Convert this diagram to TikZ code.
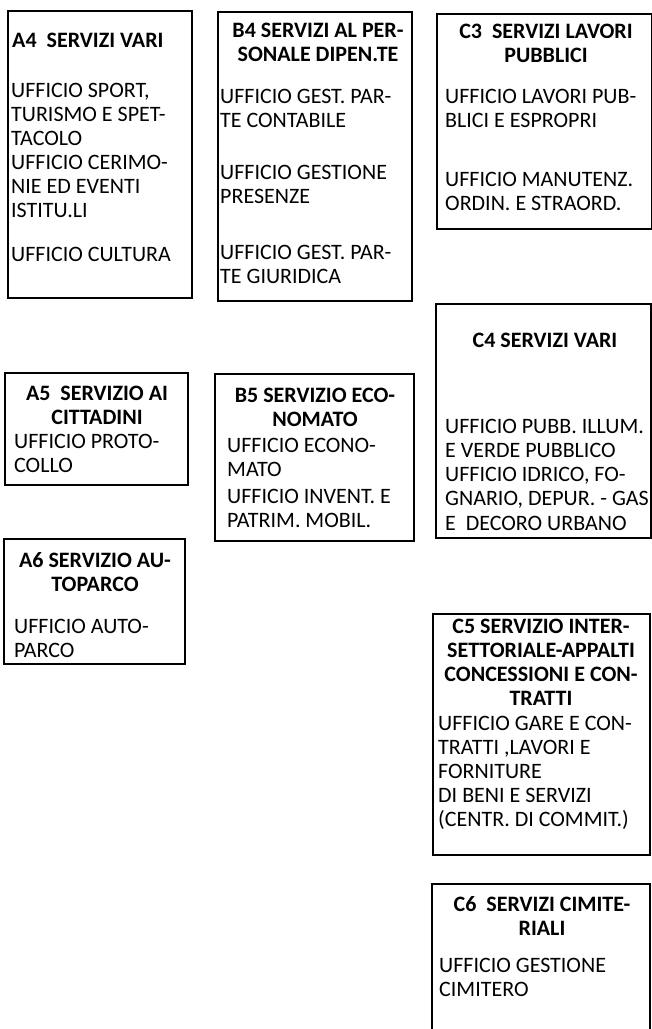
\documentclass[tikz,border=0pt]{standalone}
\usepackage{fontspec}
\setmainfont{Carlito}
\usepackage{tikz}

\begin{document}
\begin{tikzpicture}[x=1pt, y=-1pt, font=\fontsize{22}{24}\selectfont,
  box/.style={rectangle, draw=black, line width=2pt, anchor=north west, inner sep=0pt},
  head/.style={font=\fontsize{22}{24}\selectfont\bfseries, align=center, anchor=north, inner sep=0pt},
  body/.style={align=left, anchor=north west, inner sep=0pt}]
\useasboundingbox (0,0) rectangle (652,1029);

% column A
\node (a4) [box, minimum width=184pt, minimum height=287pt] at (7,10) {};
\node (a4head) [head, anchor=north west] at (12,33) {A4~~SERVIZI VARI};
\node (a4body) [body] at (11,83) {UFFICIO SPORT,\\TURISMO E SPET-\\TACOLO\\UFFICIO CERIMO-\\NIE ED EVENTI\\ISTITU.LI\\[20pt]UFFICIO CULTURA};

\node (a5) [box, minimum width=183pt, minimum height=112pt] at (4,372) {};
\node (a5head) [head] at (97,386) {A5~~SERVIZIO AI\\CITTADINI};
\node (a5body) [body] at (14,434) {UFFICIO PROTO-\\COLLO};

\node (a6) [box, minimum width=181pt, minimum height=125pt] at (3,538) {};
\node (a6head) [head] at (95,552) {A6 SERVIZIO AU-\\TOPARCO};
\node (a6body) [body] at (14,619) {UFFICIO AUTO-\\PARCO};

% column B
\node (b4) [box, minimum width=194pt, minimum height=289pt] at (217,11) {};
\node (b4head) [head] at (318,23) {B4 SERVIZI AL PER-\\SONALE DIPEN.TE};
\node (b4body) [body] at (220,89) {UFFICIO GEST. PAR-\\TE CONTABILE\\[28pt]UFFICIO GESTIONE\\PRESENZE\\[32pt]UFFICIO GEST. PAR-\\TE GIURIDICA};

\node (b5) [box, minimum width=199pt, minimum height=167pt] at (214,373) {};
\node (b5head) [head] at (315,388) {B5 SERVIZIO ECO-\\NOMATO};
\node (b5body) [body] at (227,438) {UFFICIO ECONO-\\MATO\\[3pt]UFFICIO INVENT. E\\PATRIM. MOBIL.};

% column C
\node (c3) [box, minimum width=214.5pt, minimum height=215pt] at (436,13) {};
\node (c3head) [head] at (546,24) {C3~~SERVIZI LAVORI\\PUBBLICI};
\node (c3body) [body] at (445,89) {UFFICIO LAVORI PUB-\\BLICI E ESPROPRI\\[35pt]UFFICIO MANUTENZ.\\ORDIN. E STRAORD.};

\node (c4) [box, minimum width=215pt, minimum height=234pt] at (435,303) {};
\node (c4head) [head] at (545,333) {C4 SERVIZI VARI};
\node (c4body) [body] at (445,419) {UFFICIO PUBB. ILLUM.\\E VERDE PUBBLICO\\UFFICIO IDRICO, FO-\\GNARIO, DEPUR. - GAS\\[1pt]E~~DECORO URBANO};

\node (c5) [box, minimum width=217pt, minimum height=241pt] at (432,613) {};
\node (c5head) [head] at (541,619) {C5 SERVIZIO INTER-\\SETTORIALE-APPALTI\\CONCESSIONI E CON-\\TRATTI};
\node (c5body) [body] at (438,716) {UFFICIO GARE E CON-\\TRATTI ,LAVORI E\\FORNITURE\\DI BENI E SERVIZI\\(CENTR. DI COMMIT.)};

\node (c6) [box, minimum width=218pt, minimum height=160pt] at (431,883) {};
\node (c6head) [head] at (542,896) {C6~~SERVIZI CIMITE-\\RIALI};
\node (c6body) [body] at (439,958) {UFFICIO GESTIONE\\CIMITERO};
\end{tikzpicture}
\end{document}
